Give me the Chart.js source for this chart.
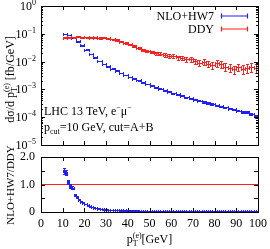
<!DOCTYPE html>
<html>
<head>
<meta charset="utf-8">
<script src="https://cdn.jsdelivr.net/npm/chart.js@4.4.1/dist/chart.umd.min.js"></script>
<style>
  html, body { margin: 0; padding: 0; background: #fff; }
  #wrap { position: relative; width: 270px; height: 249px; overflow: hidden; }
  #topChart { position: absolute; left: 0; top: 0; }
  #ratioChart { position: absolute; left: 0; top: 140px; }
</style>
</head>
<body>
<div id="wrap">
  <canvas id="topChart" width="270" height="150"></canvas>
  <canvas id="ratioChart" width="270" height="109"></canvas>
</div>
<script>
// bin centres (2 GeV bins from 10 to 100)
const binCenters = [11, 13, 15, 17, 19, 21, 23, 25, 27, 29, 31, 33, 35, 37, 39, 41, 43, 45, 47, 49,
  51, 53, 55, 57, 59, 61, 63, 65, 67, 69, 71, 73, 75, 77, 79, 81, 83, 85, 87, 89, 91, 93, 95, 97, 99];

// NLO+HW7 [fb/GeV] and relative errors in %
const nloValues = [0.100, 0.0891, 0.0724, 0.0537, 0.0380, 0.0269, 0.0191, 0.0141, 0.0107, 0.00832,
  0.00676, 0.00562, 0.00468, 0.00389, 0.00331, 0.00282, 0.00240, 0.00209, 0.00182, 0.00158,
  0.00138, 0.00120, 0.00107, 0.000933, 0.000832, 0.000741, 0.000661, 0.000589, 0.000525, 0.000479,
  0.000427, 0.000389, 0.000355, 0.000324, 0.000295, 0.000269, 0.000245, 0.000224, 0.000204, 0.000191,
  0.000174, 0.000158, 0.000152, 0.000128, 0.000107];
const nloErrPct = [2, 2, 2, 2, 2, 2, 2, 2, 2, 2, 2, 2, 3, 3, 3, 3, 3, 3, 3, 3,
  3, 4, 4, 4, 4, 4, 4, 4, 5, 5, 5, 5, 5, 5, 6, 6, 6, 6, 7, 7, 7, 8, 8, 9, 10];

// DDY [fb/GeV] and relative errors in %
const ddyValues = [0.0708, 0.0759, 0.0741, 0.0776, 0.0741, 0.0759, 0.0724, 0.0741, 0.0708, 0.0724,
  0.0692, 0.0631, 0.0603, 0.0525, 0.0468, 0.0417, 0.0355, 0.0302, 0.0263, 0.0240,
  0.0224, 0.0200, 0.0191, 0.0174, 0.0158, 0.0162, 0.0141, 0.0132, 0.0120, 0.0126,
  0.0105, 0.00912, 0.0100, 0.00832, 0.00759, 0.00891, 0.00794, 0.00661, 0.00603, 0.00525,
  0.00631, 0.00562, 0.00589, 0.00661, 0.00603];
const ddyErrPct = [4, 4, 4, 4, 4, 5, 5, 5, 5, 5, 5, 6, 6, 6, 6, 7, 7, 8, 8, 9,
  10, 11, 12, 13, 14, 14, 16, 17, 18, 20, 20, 22, 24, 26, 28, 26, 28, 30, 32, 34, 30, 34, 36, 34, 36];

// ratio NLO+HW7/DDY (1 GeV bins from 10 to 100)
const ratioCenters = [10.5, 11.5, 12.5, 13.5, 14.5, 15.5, 16.5, 17.5, 18.5, 19.5,
  20.5, 21.5, 22.5, 23.5, 24.5, 25.5, 26.5, 27.5, 28.5, 29.5,
  30.5, 31.5, 32.5, 33.5, 34.5, 35.5, 36.5, 37.5, 38.5, 39.5,
  40.5, 41.5, 42.5, 43.5, 44.5, 45.5, 46.5, 47.5, 48.5, 49.5,
  50.5, 51.5, 52.5, 53.5, 54.5, 55.5, 56.5, 57.5, 58.5, 59.5,
  60.5, 61.5, 62.5, 63.5, 64.5, 65.5, 66.5, 67.5, 68.5, 69.5,
  70.5, 71.5, 72.5, 73.5, 74.5, 75.5, 76.5, 77.5, 78.5, 79.5,
  80.5, 81.5, 82.5, 83.5, 84.5, 85.5, 86.5, 87.5, 88.5, 89.5,
  90.5, 91.5, 92.5, 93.5, 94.5, 95.5, 96.5, 97.5, 98.5, 99.5];
const ratioValues = [1.50, 1.42, 1.10, 0.95, 0.88, 0.62, 0.55, 0.45, 0.38, 0.33,
  0.29, 0.25, 0.21, 0.18, 0.16, 0.14, 0.125, 0.11, 0.10, 0.09,
  0.085, 0.08, 0.075, 0.07, 0.066, 0.063, 0.06, 0.057, 0.055, 0.053,
  0.051, 0.050, 0.049, 0.048, 0.047, 0.046, 0.046, 0.045, 0.044, 0.044,
  0.043, 0.043, 0.042, 0.042, 0.041, 0.041, 0.040, 0.040, 0.039, 0.039,
  0.038, 0.038, 0.037, 0.037, 0.037, 0.036, 0.036, 0.035, 0.035, 0.035,
  0.034, 0.034, 0.034, 0.033, 0.033, 0.033, 0.032, 0.032, 0.032, 0.031,
  0.031, 0.031, 0.030, 0.030, 0.030, 0.029, 0.029, 0.029, 0.028, 0.028,
  0.028, 0.027, 0.027, 0.027, 0.026, 0.026, 0.026, 0.025, 0.025, 0.024];
const ratioErrors = [0.10, 0.09, 0.07, 0.06, 0.05, 0.04, 0.035, 0.03, 0.025, 0.02,
  0.015, 0.015, 0.015, 0.015, 0.015, 0.01, 0.01, 0.01, 0.01, 0.01,
  0.01, 0.01, 0.01, 0.01, 0.01, 0.008, 0.008, 0.008, 0.008, 0.008,
  0.008, 0.008, 0.008, 0.008, 0.008, 0.008, 0.008, 0.008, 0.008, 0.008,
  0.008, 0.008, 0.008, 0.008, 0.008, 0.008, 0.008, 0.008, 0.008, 0.008,
  0.008, 0.008, 0.008, 0.008, 0.008, 0.008, 0.008, 0.008, 0.008, 0.008,
  0.008, 0.008, 0.008, 0.008, 0.008, 0.008, 0.008, 0.008, 0.008, 0.008,
  0.008, 0.008, 0.008, 0.008, 0.008, 0.008, 0.008, 0.008, 0.008, 0.008,
  0.008, 0.008, 0.008, 0.008, 0.008, 0.008, 0.008, 0.008, 0.008, 0.008];
const ratioReference = [1, 1];

// axes
const xTickValues = [0, 10, 20, 30, 40, 50, 60, 70, 80, 90, 100];
const logTickValues = [1, 0.1, 0.01, 0.001, 0.0001, 0.00001];
const logTickExponents = ['0', '−1', '−2', '−3', '−4', '−5'];
const logMinorMultiples = [2, 3, 4, 5, 6, 7, 8, 9];
const ratioTickValues = [0, 0.5, 1, 1.5, 2];

const FONT = "'Liberation Serif', 'DejaVu Serif', serif";
const nloColor = '#1f1fff';
const ddyColor = '#ff1f1f';

function px(v) { return Math.round(v) + 0.5; }

function drawRich(ctx, parts, x, y, align) {
  let total = 0;
  parts.forEach(p => {
    ctx.font = `${p.size}px ${FONT}`;
    p.w = ctx.measureText(p.t).width;
    if (!p.stack) total += p.w;
  });
  let cx = align === 'right' ? x - total : align === 'center' ? x - total / 2 : x;
  ctx.textAlign = 'left';
  ctx.textBaseline = 'alphabetic';
  parts.forEach(p => {
    ctx.font = `${p.size}px ${FONT}`;
    ctx.fillText(p.t, cx, y + (p.dy || 0));
    if (!p.stack) cx += p.w;
  });
}

function drawFrame(chart) {
  const { ctx, chartArea: a } = chart;
  ctx.save();
  ctx.strokeStyle = '#000';
  ctx.lineWidth = 1;
  ctx.strokeRect(px(a.left), px(a.top), Math.round(a.right) - Math.round(a.left), Math.round(a.bottom) - Math.round(a.top));
  ctx.restore();
}

function drawXTicks(chart, values, len) {
  const { ctx, chartArea: a, scales: { x } } = chart;
  ctx.save();
  ctx.strokeStyle = '#000';
  ctx.lineWidth = 1;
  ctx.beginPath();
  values.forEach(v => {
    const xp = px(x.getPixelForValue(v));
    ctx.moveTo(xp, a.bottom); ctx.lineTo(xp, a.bottom - len);
    ctx.moveTo(xp, a.top); ctx.lineTo(xp, a.top + len);
  });
  ctx.stroke();
  ctx.restore();
}

function drawYTicks(chart, values, len) {
  const { ctx, chartArea: a, scales: { y } } = chart;
  ctx.save();
  ctx.strokeStyle = '#000';
  ctx.lineWidth = 1;
  ctx.beginPath();
  values.forEach(v => {
    const yp = px(y.getPixelForValue(v));
    ctx.moveTo(a.left, yp); ctx.lineTo(a.left + len, yp);
    ctx.moveTo(a.right, yp); ctx.lineTo(a.right - len, yp);
  });
  ctx.stroke();
  ctx.restore();
}

// gnuplot style xyerrorbars: bin-wide horizontal bar, vertical error bar, caps on all ends
const errorBars = {
  id: 'errorBars',
  afterDatasetsDraw(chart) {
    const { ctx, chartArea: a, scales: { x, y } } = chart;
    const cap = 1.5;
    ctx.save();
    ctx.beginPath();
    ctx.rect(a.left, a.top, a.right - a.left, a.bottom - a.top);
    ctx.clip();
    ctx.lineWidth = 1;
    chart.data.datasets.forEach(ds => {
      if (!ds.yErr) return;
      ctx.strokeStyle = ds.borderColor;
      ctx.beginPath();
      ds.data.forEach((p, i) => {
        const xc = px(x.getPixelForValue(p.x));
        const xl = px(x.getPixelForValue(p.x - ds.halfWidth));
        const xr = px(x.getPixelForValue(p.x + ds.halfWidth));
        const yc = px(y.getPixelForValue(p.y));
        const lo = Math.max(p.y - ds.yErr[i], y.min);
        const yl = px(y.getPixelForValue(lo));
        const yh = px(y.getPixelForValue(p.y + ds.yErr[i]));
        ctx.moveTo(xl, yc); ctx.lineTo(xr, yc);
        ctx.moveTo(xl, yc - cap); ctx.lineTo(xl, yc + cap);
        ctx.moveTo(xr, yc - cap); ctx.lineTo(xr, yc + cap);
        ctx.moveTo(xc, yl); ctx.lineTo(xc, yh);
        ctx.moveTo(xc - cap, yl); ctx.lineTo(xc + cap, yl);
        ctx.moveTo(xc - cap, yh); ctx.lineTo(xc + cap, yh);
      });
      ctx.stroke();
    });
    ctx.restore();
  }
};

const topDecor = {
  id: 'topDecor',
  afterDraw(chart) {
    const { ctx, chartArea: a, scales: { y } } = chart;
    drawFrame(chart);
    drawXTicks(chart, xTickValues, 4);
    drawYTicks(chart, logTickValues, 4);
    const minors = [];
    logTickValues.slice(1).forEach(d => logMinorMultiples.forEach(m => minors.push(d * m)));
    drawYTicks(chart, minors, 2);

    ctx.save();
    ctx.fillStyle = '#000';
    logTickValues.forEach((v, i) => {
      const yp = y.getPixelForValue(v);
      drawRich(ctx, [{ t: '10', size: 12 }, { t: logTickExponents[i], size: 8, dy: -5 }], 36, yp + 4, 'right');
    });
    // legend, key on the right like gnuplot
    const legend = [['NLO+HW7', nloColor, 16], ['DDY', ddyColor, 29]];
    legend.forEach(([label, color, ly]) => {
      ctx.fillStyle = '#000';
      drawRich(ctx, [{ t: label, size: 12 }], 214, ly + 4, 'right');
      ctx.save();
      ctx.strokeStyle = color;
      ctx.lineWidth = 1.2;
      ctx.beginPath();
      ctx.moveTo(221, ly); ctx.lineTo(248, ly);
      ctx.moveTo(221.5, ly - 2.5); ctx.lineTo(221.5, ly + 2.5);
      ctx.moveTo(247.5, ly - 2.5); ctx.lineTo(247.5, ly + 2.5);
      ctx.stroke();
      ctx.restore();
    });
    ctx.fillStyle = '#000';
    drawRich(ctx, [{ t: 'LHC 13 TeV, e', size: 12 }, { t: '−', size: 8, dy: -5 }, { t: 'μ', size: 12 }, { t: '−', size: 8, dy: -5 }], 44, 115, 'left');
    drawRich(ctx, [{ t: 'p', size: 12 }, { t: 'cut', size: 8, dy: 3 }, { t: '=10 GeV, cut=A+B', size: 12 }], 44, 131, 'left');
    ctx.translate(14, (a.top + a.bottom) / 2 + 4);
    ctx.rotate(-Math.PI / 2);
    drawRich(ctx, [{ t: 'dσ/d p', size: 12 }, { t: 'T', size: 8, dy: 3, stack: true }, { t: '(e)', size: 8, dy: -5 }, { t: ' [fb/GeV]', size: 12 }], 0, 0, 'center');
    ctx.restore();
  }
};

const ratioDecor = {
  id: 'ratioDecor',
  afterDraw(chart) {
    const { ctx, chartArea: a } = chart;
    drawFrame(chart);
    drawXTicks(chart, xTickValues, 4);
    drawYTicks(chart, ratioTickValues, 4);
    ctx.save();
    ctx.fillStyle = '#000';
    drawRich(ctx, [{ t: 'p', size: 12 }, { t: 'T', size: 8, dy: 3, stack: true }, { t: '(e)', size: 8, dy: -5 }, { t: '[GeV]', size: 12 }], (a.left + a.right) / 2, 103, 'center');
    ctx.translate(14, 45);
    ctx.rotate(-Math.PI / 2);
    drawRich(ctx, [{ t: 'NLO+HW7/DDY', size: 11 }], 0, 0, 'center');
    ctx.restore();
  }
};

new Chart(document.getElementById('topChart'), {
  type: 'scatter',
  data: {
    datasets: [
      {
        label: 'NLO+HW7',
        data: binCenters.map((x, i) => ({ x, y: nloValues[i] })),
        yErr: nloValues.map((v, i) => v * nloErrPct[i] / 100),
        halfWidth: 1,
        borderColor: nloColor,
        pointRadius: 0,
        showLine: false
      },
      {
        label: 'DDY',
        data: binCenters.map((x, i) => ({ x, y: ddyValues[i] })),
        yErr: ddyValues.map((v, i) => v * ddyErrPct[i] / 100),
        halfWidth: 1,
        borderColor: ddyColor,
        pointRadius: 0,
        showLine: false
      }
    ]
  },
  options: {
    responsive: false,
    animation: false,
    layout: { padding: { top: 6, right: 12, bottom: 0, left: 0 } },
    plugins: { legend: { display: false }, tooltip: { enabled: false } },
    scales: {
      x: {
        type: 'linear', min: 0, max: 100,
        ticks: { display: false, stepSize: 10 },
        grid: { display: false, drawTicks: false },
        border: { display: false },
        afterFit: (s) => { s.height = 5; s.paddingLeft = 0; s.paddingRight = 0; }
      },
      y: {
        type: 'logarithmic', min: 1e-5, max: 1,
        ticks: { display: false },
        grid: { display: false, drawTicks: false },
        border: { display: false },
        afterFit: (s) => { s.width = 41; s.paddingTop = 0; s.paddingBottom = 0; }
      }
    }
  },
  plugins: [errorBars, topDecor]
});

new Chart(document.getElementById('ratioChart'), {
  type: 'scatter',
  data: {
    datasets: [
      {
        label: 'ratio',
        data: ratioCenters.map((x, i) => ({ x, y: ratioValues[i] })),
        yErr: ratioErrors,
        halfWidth: 0.5,
        borderColor: nloColor,
        pointRadius: 0,
        showLine: false
      },
      {
        label: 'one',
        data: [{ x: 0, y: ratioReference[0] }, { x: 100, y: ratioReference[1] }],
        borderColor: ddyColor,
        borderWidth: 1,
        pointRadius: 0,
        showLine: true
      }
    ]
  },
  options: {
    responsive: false,
    animation: false,
    layout: { padding: { top: 17, right: 12, bottom: 0, left: 0 } },
    plugins: { legend: { display: false }, tooltip: { enabled: false } },
    scales: {
      x: {
        type: 'linear', min: 0, max: 100,
        ticks: { stepSize: 10, autoSkip: false, maxRotation: 0, padding: 5, color: '#000', font: { family: FONT, size: 12 } },
        grid: { display: false, drawTicks: false },
        border: { display: false },
        afterFit: (s) => { s.height = 37; s.paddingLeft = 0; s.paddingRight = 0; }
      },
      y: {
        type: 'linear', min: 0, max: 2,
        ticks: { stepSize: 0.5, padding: 6, color: '#000', font: { family: FONT, size: 12 } },
        grid: { display: false, drawTicks: false },
        border: { display: false },
        afterFit: (s) => { s.width = 41; s.paddingTop = 0; s.paddingBottom = 0; }
      }
    }
  },
  plugins: [errorBars, ratioDecor]
});
</script>
</body>
</html>
